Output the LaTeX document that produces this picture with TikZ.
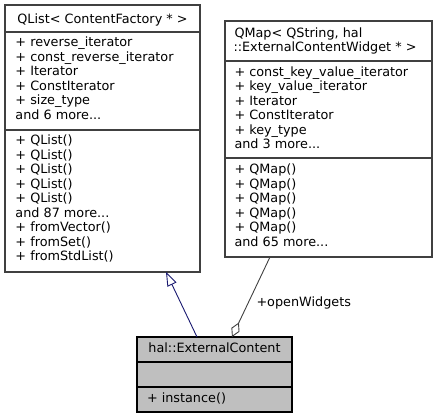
\documentclass[tikz,border=0pt]{standalone}
\usepackage{fontspec}
\setmainfont{DejaVu Sans}
\usetikzlibrary{arrows.meta,calc}
\definecolor{boxline}{HTML}{404040}
\definecolor{edgegray}{HTML}{404040}
\definecolor{midblue}{HTML}{191970}
\definecolor{curfill}{HTML}{BFBFBF}
\begin{document}
\begin{tikzpicture}[x=1pt,y=-1pt,
  every node/.style={font=\fontsize{12.8}{14.5}\selectfont, inner sep=0pt, outer sep=0pt},
  umlbox/.style={draw=boxline, line width=1.1pt, fill=white, rectangle, anchor=north west},
  curbox/.style={draw=black, line width=1.1pt, fill=curfill, rectangle, anchor=north west},
  sepline/.style={draw=boxline, line width=1.1pt},
  txt/.style={anchor=base west},
  ttl/.style={anchor=base},
  inherit/.style={draw=midblue, line width=0.9pt, -{Triangle[open, length=14pt, width=10pt, line width=0.9pt]}},
  aggr/.style={draw=edgegray, line width=0.9pt, -{Diamond[open, length=16pt, width=9pt, line width=0.9pt]}}
]
\useasboundingbox (0,0) rectangle (437,419);

% ---------- QList box ----------
\node[umlbox, minimum width=195pt, minimum height=267pt] (qlist) at (5,5) {};
\draw[sepline] ($(qlist.north west)+(0,27)$) -- ($(qlist.north east)+(0,27)$);
\draw[sepline] ($(qlist.north west)+(0,125)$) -- ($(qlist.north east)+(0,125)$);
\node[ttl] (qlt) at (102.5,24) {QList< ContentFactory * >};
\foreach \t [count=\i from 0] in {+ reverse\_iterator, + const\_reverse\_iterator, + Iterator, + ConstIterator, + size\_type}
  \node[txt] (qla\i) at (15.5,{47+\i*14.5}) {\t};
\node[txt] (qla5) at (15.5,119.5) {and 6 more...};
\foreach \t [count=\i from 0] in {+ QList(), + QList(), + QList(), + QList(), + QList()}
  \node[txt] (qlb\i) at (15.5,{145+\i*14.5}) {\t};
\node[txt] (qlb5) at (15.5,217.5) {and 87 more...};
\node[txt] (qlb6) at (15.5,232) {+ fromVector()};
\node[txt] (qlb7) at (15.5,246.5) {+ fromSet()};
\node[txt] (qlb8) at (15.5,261) {+ fromStdList()};

% ---------- QMap box ----------
\node[umlbox, minimum width=207pt, minimum height=236pt] (qmap) at (225,21) {};
\draw[sepline] ($(qmap.north west)+(0,40)$) -- ($(qmap.north east)+(0,40)$);
\draw[sepline] ($(qmap.north west)+(0,137)$) -- ($(qmap.north east)+(0,137)$);
\node[txt] (qmt1) at (234.5,37.3) {QMap< QString, hal};
\node[txt] (qmt2) at (233.5,51.8) {::ExternalContentWidget * >};
\foreach \t [count=\i from 0] in {+ const\_key\_value\_iterator, + key\_value\_iterator, + Iterator, + ConstIterator, + key\_type}
  \node[txt] (qma\i) at (234.5,{76.5+\i*14.5}) {\t};
\node[txt] (qma5) at (234.5,149) {and 3 more...};
\foreach \t [count=\i from 0] in {+ QMap(), + QMap(), + QMap(), + QMap(), + QMap()}
  \node[txt] (qmb\i) at (234.5,{174+\i*14.5}) {\t};
\node[txt] (qmb5) at (234.5,246.5) {and 65 more...};

% ---------- ExternalContent box ----------
\node[curbox, minimum width=155pt, minimum height=75pt] (ext) at (137,337) {};
\draw[draw=black, line width=1.1pt] ($(ext.north west)+(0,25)$) -- ($(ext.north east)+(0,25)$);
\draw[draw=black, line width=1.1pt] ($(ext.north west)+(0,50)$) -- ($(ext.north east)+(0,50)$);
\node[ttl] (extt) at (214.5,353) {hal::ExternalContent};
\node[txt] (extm) at (147,403) {+ instance()};

% ---------- connectors ----------
\draw[inherit] ($(ext.north west)+(60,0)$) -- ($(qlist.south west)+(161,0)$);
\draw[aggr] ($(qmap.south west)+(45,0)$) -- ($(ext.north west)+(95,0)$);
\node[txt] (ow) at (256.5,306.5) {+openWidgets};
\end{tikzpicture}
\end{document}
